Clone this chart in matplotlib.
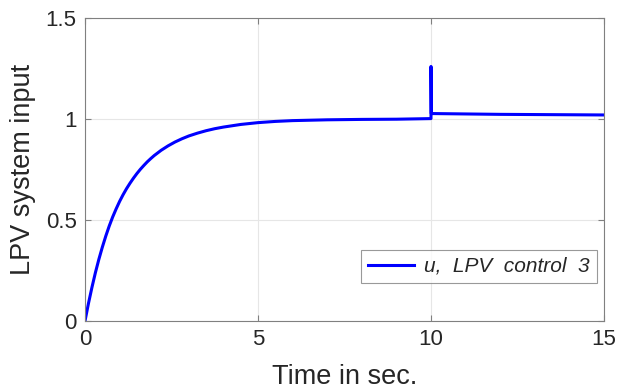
import matplotlib
matplotlib.use("Agg")
import matplotlib.pyplot as plt

t = [0, 0.1, 0.2, 0.3, 0.4, 0.5, 0.6, 0.7, 0.8, 0.9, 1.0, 1.1, 1.2, 1.3, 1.4,
     1.5, 1.6, 1.7, 1.8, 1.9, 2.0, 2.2, 2.4, 2.6, 2.8, 3.0, 3.25, 3.5, 3.75,
     4.0, 4.5, 5.0, 5.5, 6.0, 7.0, 8.0, 9.0, 10.0,
     10.0, 10.01, 11.0, 12.0, 13.0, 14.0, 15.0]
u = [0.0, 0.087, 0.166, 0.239, 0.305, 0.365, 0.42, 0.47, 0.515, 0.555, 0.592,
     0.625, 0.655, 0.682, 0.707, 0.73, 0.751, 0.77, 0.788, 0.804, 0.819,
     0.845, 0.867, 0.886, 0.902, 0.916, 0.93, 0.942, 0.952, 0.96, 0.973,
     0.982, 0.988, 0.992, 0.996, 0.998, 0.999, 1.002,
     1.26, 1.027, 1.025, 1.023, 1.022, 1.021, 1.02]
xticks = [0, 5, 10, 15]
yticks = [0, 0.5, 1, 1.5]
yticklabels = ["0", "0.5", "1", "1.5"]
legend_label = "u,  LPV  control  3"

plt.rcParams['font.family'] = ['Liberation Sans', 'DejaVu Sans']
fig = plt.figure(figsize=(6.18, 3.91), dpi=100)
ax = fig.add_axes([85/618, 1 - 321/391, (604-85)/618, (321-18)/391])
ax.plot(t, u, color='#0000ff', lw=2.2, label=legend_label)
ax.set_xlim(0, 15)
ax.set_ylim(0, 1.5)
ax.set_xticks(xticks)
ax.set_yticks(yticks)
ax.set_yticklabels(yticklabels)
ax.grid(True, color='#e6e6e6', lw=0.8)
ax.set_axisbelow(True)
for s in ax.spines.values():
    s.set_color('#808080')
    s.set_linewidth(0.8)
ax.tick_params(direction='in', length=4, color='#808080', labelsize=16,
               labelcolor='#262626', top=True, right=True, pad=6)
ax.set_xlabel('Time in sec.', fontsize=19.5, color='#262626', labelpad=10)
ax.set_ylabel('LPV system input', fontsize=19.5, color='#262626', labelpad=7)
leg = ax.legend(loc='lower right', bbox_to_anchor=(0.9865, 0.125),
                borderaxespad=0, prop={'style': 'italic', 'size': 15},
                frameon=True, fancybox=False, edgecolor='#808080',
                handlelength=2.2, borderpad=0.35, handletextpad=0.5)
leg.get_frame().set_linewidth(0.8)
for txt in leg.get_texts():
    txt.set_color('#262626')
fig.savefig('out.png', dpi=100)
